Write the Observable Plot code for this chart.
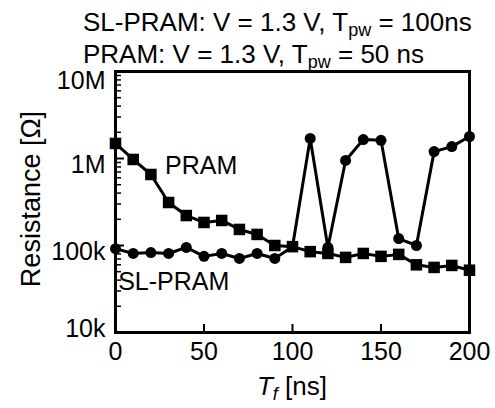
<!DOCTYPE html>
<html><head><meta charset="utf-8">
<script src="https://cdn.jsdelivr.net/npm/d3@7"></script>
<script src="https://cdn.jsdelivr.net/npm/@observablehq/plot@0.6"></script>
<style>
body{margin:0;background:#fff;}
#wrap{position:relative;width:495px;height:408px;font-family:"Liberation Sans",Arial,sans-serif;color:#000;}
#wrap svg{position:absolute;left:0;top:0;}
.t{position:absolute;left:83px;font-size:26px;line-height:24px;white-space:nowrap;}
.t sub, .xl sub{font-size:18px;vertical-align:-5px;line-height:0;}
.xl{position:absolute;left:0;width:584px;text-align:center;top:371px;font-size:26px;line-height:30px;white-space:nowrap;}
</style></head><body><div id="wrap"></div>
<script>
// Data
const tf = [0,10,20,30,40,50,60,70,80,90,100,110,120,130,140,150,160,170,180,190,200];
const pram = [1.49e6,975e3,655e3,312e3,221e3,184e3,194e3,153e3,134e3,100e3,97e3,85e3,81e3,73e3,81e3,75e3,79e3,60e3,56e3,59e3,52e3];
const slpram = [92e3,81e3,83e3,81e3,95e3,75e3,81e3,71e3,81e3,71e3,97e3,1.70e6,95e3,949e3,1.65e6,1.62e6,120e3,100e3,1.20e6,1.37e6,1.79e6];
const xTicks = [0,50,100,150,200];
const yTicks = [1e4,1e5,1e6,1e7];
const yTickLabels = ["10k","100k","1M","10M"];
const seriesLabels = ["PRAM","SL-PRAM"];
const labelX = [28,1.5];
const labelY = [830e3,37.6e3];
const titleLines = [
  {pre:"SL-PRAM: V = 1.3 V, T", sub:"pw", post:" = 100ns"},
  {pre:"PRAM: V = 1.3 V, T", sub:"pw", post:" = 50 ns"}
];
const xLabel = {main:"T", sub:"f", post:" [ns]"};
const yLabel = "Resistance [Ω]";

const W = 495, H = 408, ML = 115, MR = 26, MT = 71, MB = 76;
const FW = W - ML - MR, FH = H - MT - MB;
const minorTicks = d3.scaleLog().domain([1e4,1e7]).ticks().filter(v => !yTicks.includes(v));
const pramData = tf.map((t,i)=>({t, r:pram[i]}));
const slData = tf.map((t,i)=>({t, r:slpram[i]}));
const labelData = seriesLabels.map((s,i)=>({s, x:labelX[i], y:labelY[i]}));
const fmt = v => yTickLabels[yTicks.indexOf(v)];

const chart = Plot.plot({
  width: W, height: H,
  marginLeft: ML, marginRight: MR, marginTop: MT, marginBottom: MB,
  style: {fontFamily: '"Liberation Sans", Arial, sans-serif', fontSize: "25px", color: "black", background: "transparent"},
  x: {domain: [0,200]},
  y: {type: "log", domain: [1e4,1e7]},
  marks: [
    Plot.tickX(xTicks, {x: d => d, insetTop: FH - 8, stroke: "black", strokeWidth: 2}),
    Plot.axisX({ticks: xTicks, tickSize: 0, tickPadding: 10, label: null, fontSize: 25}),
    Plot.tickY(minorTicks, {y: d => d, insetRight: FW - 6, stroke: "black", strokeWidth: 1.5}),
    Plot.tickY(yTicks, {y: d => d, insetRight: FW - 9, stroke: "black", strokeWidth: 2}),
    Plot.axisY({ticks: yTicks.slice(3), tickSize: 0, tickPadding: 10, tickFormat: fmt, label: null, dy: 9, fontSize: 25}),
    Plot.axisY({ticks: yTicks.slice(1,3), tickSize: 0, tickPadding: 10, tickFormat: fmt, label: null, dy: 6, fontSize: 25}),
    Plot.axisY({ticks: yTicks.slice(0,1), tickSize: 0, tickPadding: 10, tickFormat: fmt, label: null, dy: -4, fontSize: 25}),
    Plot.frame({stroke: "black", strokeWidth: 3}),
    Plot.line(pramData, {x: "t", y: "r", stroke: "black", strokeWidth: 3}),
    Plot.line(slData, {x: "t", y: "r", stroke: "black", strokeWidth: 3}),
    Plot.dot(pramData, {x: "t", y: "r", symbol: "square", r: 6.5, fill: "black", stroke: "none"}),
    Plot.dot(slData, {x: "t", y: "r", symbol: "circle", r: 5.5, fill: "black", stroke: "none"}),
    Plot.text(labelData, {x: "x", y: "y", text: "s", textAnchor: "start", fontSize: 25, fill: "black"}),
    Plot.text([yLabel], {frameAnchor: "left", textAnchor: "middle", rotate: -90, dx: -84, dy: -3, fontSize: 27, fill: "black"})
  ]
});

const wrap = document.getElementById("wrap");
wrap.appendChild(chart);
titleLines.forEach((l,i)=>{
  const d = document.createElement("div");
  d.className = "t";
  d.style.top = (10 + 32*i) + "px";
  d.appendChild(document.createTextNode(l.pre));
  const s = document.createElement("sub"); s.textContent = l.sub; d.appendChild(s);
  d.appendChild(document.createTextNode(l.post));
  wrap.appendChild(d);
});
const xl = document.createElement("div");
xl.className = "xl";
const it = document.createElement("i"); it.textContent = xLabel.main; xl.appendChild(it);
const sb = document.createElement("sub"); const si = document.createElement("i"); si.textContent = xLabel.sub; sb.appendChild(si); xl.appendChild(sb);
xl.appendChild(document.createTextNode(xLabel.post));
wrap.appendChild(xl);
</script></body></html>
